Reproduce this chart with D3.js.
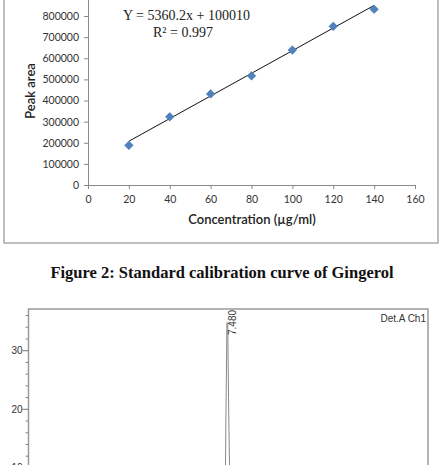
<!DOCTYPE html>
<html>
<head>
<meta charset="utf-8">
<script src="https://cdn.jsdelivr.net/npm/d3@7"></script>
<style>
  body { margin: 0; background: #fff; }
  svg { display: block; }
  .tick-label { font-family: Lato, "Open Sans", sans-serif; font-size: 10.5px; fill: #333; }
  .axis-title { font-family: Lato, "Open Sans", sans-serif; font-size: 13px; font-weight: 600; fill: #222; }
  .eq { font-family: "Liberation Serif", "Times New Roman", serif; font-size: 14px; fill: #222; }
  .caption { font-family: "Liberation Serif", "Times New Roman", serif; font-size: 16.5px; font-weight: bold; fill: #111; }
  .chrom-text { font-family: "Liberation Sans Narrow", "Liberation Sans", Arial, sans-serif; font-size: 10px; fill: #333; }
</style>
</head>
<body>
<script>
// ============== Data ==============
const concentrations = [20, 40, 60, 80, 100, 120, 140];
const peakAreas = [188000, 323000, 431000, 517000, 639000, 751000, 832000];
const xTicks = [0, 20, 40, 60, 80, 100, 120, 140, 160];
const yTicks = [0, 100000, 200000, 300000, 400000, 500000, 600000, 700000, 800000];
const fit = [5360.2, 100010];            // slope, intercept
const eqLines = ['Y = 5360.2x + 100010', 'R\u00b2 = 0.997'];
const caption = 'Figure 2: Standard calibration curve of Gingerol';

// chromatogram (time in min, signal in mV), only the peak region is in view
const chromTime = [0, 7.30, 7.40, 7.43, 7.46, 7.49, 7.52, 7.56, 7.65, 8.00, 15];
const chromSignal = [0.2, 0.3, 8, 22, 34.8, 34.6, 22, 9, 1.5, 0.4, 0.2];
const chromMajor = [10, 20, 30];
const chromMinor = [8, 12, 14, 16, 18, 22, 24, 26, 28, 32, 34, 36];
const peakLabel = { time: 7.48, text: '7.480' };
const channel = 'Det.A Ch1';

const W = 441, H = 465;
const svg = d3.select('body').append('svg')
  .attr('width', W)
  .attr('height', H);

svg.append('rect').attr('width', W).attr('height', H).attr('fill', '#fff');

// ============== Calibration chart ==============
const x = d3.scaleLinear().domain([0, 160]).range([88, 415]);
const y = d3.scaleLinear().domain([0, 900000]).range([185, -5.1]);

// outer frame (top is cut off)
svg.append('rect')
  .attr('x', 4).attr('y', -10)
  .attr('width', 434).attr('height', 253)
  .attr('fill', 'none')
  .attr('stroke', '#aaa')
  .attr('stroke-width', 1.5);

const xAxis = svg.append('g')
  .attr('transform', `translate(0,${y(0)})`)
  .call(d3.axisBottom(x).tickValues(xTicks).tickSize(4).tickPadding(7));
const yAxis = svg.append('g')
  .attr('transform', `translate(${x(0)},0)`)
  .call(d3.axisLeft(y).tickValues(yTicks).tickSize(4).tickPadding(5).tickFormat(d3.format('d')));

[xAxis, yAxis].forEach(g => {
  g.attr('font-size', null).attr('font-family', null);
  g.select('.domain').attr('stroke', '#8a8a8a');
  g.selectAll('.tick line').attr('stroke', '#8a8a8a');
  g.selectAll('.tick text').attr('class', 'tick-label');
});

// trend line
const line = d3.line().x(d => x(d)).y(d => y(fit[0] * d + fit[1]));
svg.append('path')
  .attr('d', line(d3.extent(concentrations)))
  .attr('stroke', '#111')
  .attr('stroke-width', 1)
  .attr('fill', 'none');

// diamond markers
svg.selectAll('.pt')
  .data(concentrations)
  .enter()
  .append('path')
    .attr('class', 'pt')
    .attr('d', d3.symbol(d3.symbolSquare, 38))
    .attr('transform', (d, i) => `translate(${x(d)},${y(peakAreas[i])}) rotate(45)`)
    .attr('fill', '#4f81bd')
    .attr('stroke', '#4a7ab5')
    .attr('stroke-width', 0.5);

// equation
svg.selectAll('.eq')
  .data(eqLines)
  .enter()
  .append('text')
    .attr('class', 'eq')
    .attr('x', (d, i) => i ? 153 : 123)
    .attr('y', (d, i) => i ? 37 : 20)
    .text(d => d);

// axis titles
svg.append('text')
  .attr('class', 'axis-title')
  .attr('transform', 'translate(35,91) rotate(-90)')
  .attr('text-anchor', 'middle')
  .text('Peak area');
svg.append('text')
  .attr('class', 'axis-title')
  .attr('x', 252).attr('y', 224)
  .attr('text-anchor', 'middle')
  .text('Concentration (\u00b5g/ml)');

// caption
svg.append('text')
  .attr('class', 'caption')
  .attr('x', 222).attr('y', 278)
  .attr('text-anchor', 'middle')
  .text(caption);

// ============== Chromatogram ==============
const cx = d3.scaleLinear().domain([0, 15]).range([28, 428]);
const cy = d3.scaleLinear().domain([20, 30]).range([409.3, 350.7]);

svg.append('rect')
  .attr('x', 28.5).attr('y', 309)
  .attr('width', 399.5).attr('height', 200)
  .attr('fill', 'none')
  .attr('stroke', '#9a9a9a')
  .attr('stroke-width', 1.5);

const cAxis = svg.append('g').attr('transform', 'translate(28.5,0)');
cAxis.selectAll('.minor')
  .data(chromMinor)
  .enter()
  .append('line')
    .attr('x1', -3).attr('x2', 0)
    .attr('y1', d => cy(d)).attr('y2', d => cy(d))
    .attr('stroke', '#888');
cAxis.selectAll('.major')
  .data(chromMajor)
  .enter()
  .append('line')
    .attr('x1', -6).attr('x2', 0)
    .attr('y1', d => cy(d)).attr('y2', d => cy(d))
    .attr('stroke', '#777');
cAxis.selectAll('.major-label')
  .data(chromMajor)
  .enter()
  .append('text')
    .attr('class', 'chrom-text')
    .attr('x', -6).attr('y', d => cy(d) + 3.5)
    .attr('text-anchor', 'end')
    .text(d => d);

const trace = d3.line()
  .x((d, i) => cx(chromTime[i]))
  .y(d => cy(d));
svg.append('path')
  .attr('d', trace(chromSignal))
  .attr('fill', 'none')
  .attr('stroke', '#888')
  .attr('stroke-width', 1);

svg.append('text')
  .attr('class', 'chrom-text')
  .attr('font-size', '9px')
  .attr('transform', `translate(${cx(peakLabel.time) + 8.5},335) rotate(-90)`)
  .text(peakLabel.text);

svg.append('text')
  .attr('class', 'chrom-text')
  .attr('x', 426).attr('y', 322)
  .attr('text-anchor', 'end')
  .text(channel);
</script>
</body>
</html>
